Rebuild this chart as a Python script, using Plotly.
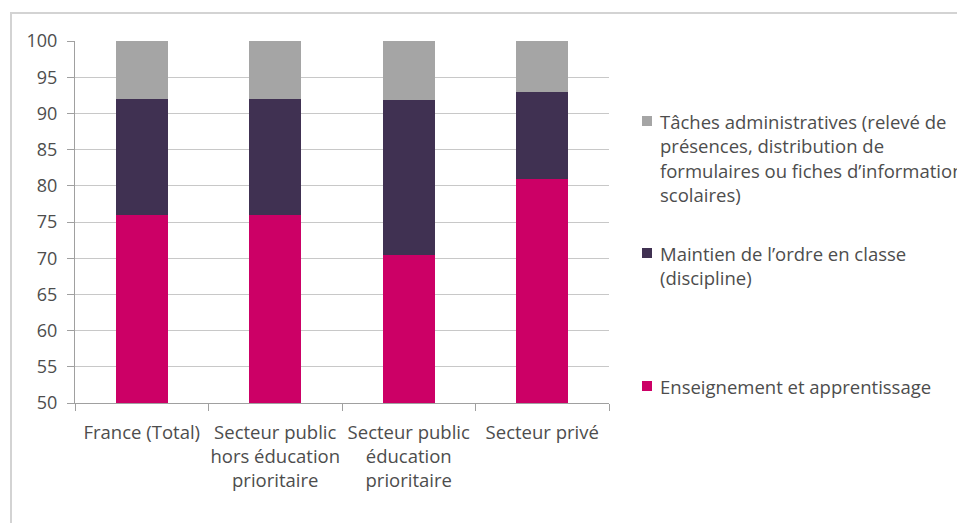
import plotly.graph_objects as go

# Categories and shares (%) of class time per activity
categories = [
    "France (Total)",
    "Secteur public<br>hors éducation<br>prioritaire",
    "Secteur public<br>éducation<br>prioritaire",
    "Secteur privé",
]
enseignement = [76, 76, 70.4, 81]
discipline = [16, 16, 21.4, 12]
administratif = [8, 8, 8.2, 7]

series_names = [
    "Enseignement et apprentissage",
    "Maintien de l’ordre en classe<br>(discipline)",
    "Tâches administratives (relevé de<br>présences, distribution de<br>formulaires ou fiches d’information<br>scolaires)",
]
series_values = [enseignement, discipline, administratif]
series_colors = ["#CC0066", "#403152", "#A5A5A5"]

y_ticks = list(range(50, 101, 5))

W, H = 957, 523
L, R, T, B = 75, 609, 41, 403  # plot area in pixels

FONT = "Open Sans"
FS = 18.5
TXT = "#4D4D4D"

fig = go.Figure()
for name, vals, col in zip(series_names, series_values, series_colors):
    fig.add_trace(go.Bar(
        x=categories, y=vals, name=name, marker_color=col,
        marker_line_width=0, width=0.39, showlegend=False,
    ))


def px_x(p):
    return (p - L) / (R - L)


def px_y(p):
    return (B - p) / (B - T)


shapes = [
    # outer frame of the chart
    dict(type="rect", xref="paper", yref="paper",
         x0=px_x(11), x1=px_x(990), y0=px_y(560), y1=px_y(13),
         line=dict(color="#D3D3D3", width=2), fillcolor="rgba(0,0,0,0)",
         layer="below"),
]
annotations = []

# legend drawn on the right, top entry first; one annotation per text line
legend_tops = [121, 253, 386]
LINE_H = 24.5
for (name, col), yc in zip(list(zip(series_names, series_colors))[::-1], legend_tops):
    shapes.append(dict(type="rect", xref="paper", yref="paper",
                       x0=px_x(642), x1=px_x(652), y0=px_y(yc + 5), y1=px_y(yc - 5),
                       fillcolor=col, line_width=0))
    for k, line in enumerate(name.split("<br>")):
        annotations.append(dict(xref="paper", yref="paper", x=px_x(658),
                                y=px_y(yc + k * LINE_H),
                                xanchor="left", yanchor="middle", align="left",
                                text=line, showarrow=False,
                                font=dict(family=FONT, size=FS, color=TXT)))

fig.update_layout(
    width=W, height=H,
    margin=dict(l=L, r=W - R, t=T, b=H - B, pad=0, autoexpand=False),
    paper_bgcolor="white", plot_bgcolor="white",
    barmode="stack", bargap=0.61,
    font=dict(family=FONT, size=FS, color=TXT),
    shapes=shapes, annotations=annotations,
    showlegend=False,
)
fig.update_xaxes(
    type="category", tickson="boundaries", ticks="outside", ticklen=7,
    tickcolor="#A0A0A0", showline=True, linecolor="#A0A0A0", linewidth=1,
    showgrid=False, ticklabelstandoff=13, tickangle=0, automargin=False,
    tickfont=dict(family=FONT, size=FS, color=TXT),
)
fig.update_yaxes(
    range=[50, 100], tickvals=y_ticks, ticks="outside", ticklen=7,
    tickcolor="#A0A0A0", showline=True, linecolor="#A0A0A0", linewidth=1,
    showgrid=True, gridcolor="#C8C8C8", gridwidth=1, zeroline=False,
    ticklabelstandoff=6, automargin=False,
    tickfont=dict(family=FONT, size=18, color=TXT),
)

fig.write_html("out.html")
